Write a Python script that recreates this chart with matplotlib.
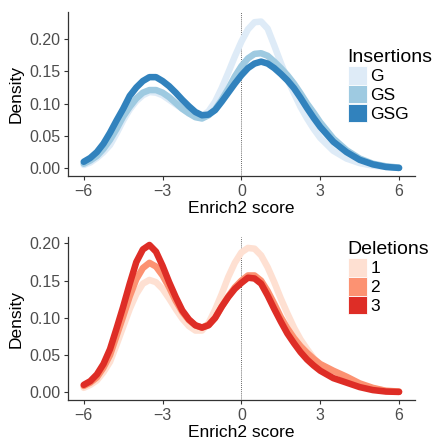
import numpy as np
from matplotlib import pyplot as plt
from matplotlib.patches import Patch

plt.rcParams['font.family'] = ['Liberation Sans', 'DejaVu Sans']

#### data ####

score = [-6, -5.75, -5.5, -5.25,
         -5, -4.75, -4.5, -4.25, -4, -3.75, -3.5, -3.25, -3, -2.75, -2.5, -2.25,
         -2, -1.75, -1.5, -1.25, -1, -0.75, -0.5, -0.25, 0, 0.25, 0.5, 0.75,
         1, 1.25, 1.5, 1.75, 2, 2.25, 2.5, 2.75, 3,
         3.5, 4, 4.5, 5, 5.5, 6]

ins_labels = ['G', 'GS', 'GSG']
ins_g   = [0.005, 0.009, 0.016, 0.025,
           0.036, 0.054, 0.074, 0.091, 0.104, 0.113, 0.118, 0.117, 0.113, 0.106, 0.099, 0.092,
           0.085, 0.081, 0.081, 0.088, 0.103, 0.124, 0.148, 0.173, 0.196, 0.215, 0.226, 0.227,
           0.216, 0.190, 0.163, 0.138, 0.116, 0.095, 0.077, 0.061, 0.047,
           0.027, 0.015, 0.008, 0.004, 0.002, 0.0005]
ins_gs  = [0.007, 0.012, 0.019, 0.030,
           0.044, 0.061, 0.080, 0.095, 0.108, 0.117, 0.121, 0.121, 0.117, 0.110, 0.101, 0.092,
           0.085, 0.079, 0.077, 0.082, 0.091, 0.106, 0.123, 0.142, 0.158, 0.170, 0.177, 0.178,
           0.174, 0.165, 0.155, 0.144, 0.131, 0.116, 0.100, 0.086, 0.071,
           0.046, 0.028, 0.015, 0.007, 0.003, 0.001]
ins_gsg = [0.010, 0.016, 0.025, 0.038,
           0.055, 0.074, 0.092, 0.112, 0.125, 0.135, 0.141, 0.141, 0.135, 0.127, 0.117, 0.106,
           0.096, 0.087, 0.082, 0.083, 0.090, 0.103, 0.117, 0.131, 0.144, 0.155, 0.162, 0.165,
           0.162, 0.155, 0.146, 0.136, 0.124, 0.109, 0.093, 0.078, 0.064,
           0.041, 0.025, 0.013, 0.006, 0.002, 0.0005]

del_labels = ['1', '2', '3']
del_1 = [0.006, 0.010, 0.016, 0.027,
         0.041, 0.064, 0.088, 0.112, 0.132, 0.146, 0.151, 0.148, 0.139, 0.126, 0.112, 0.099,
         0.089, 0.083, 0.083, 0.093, 0.111, 0.132, 0.155, 0.174, 0.188, 0.194, 0.193, 0.184,
         0.168, 0.148, 0.126, 0.106, 0.087, 0.071, 0.058, 0.046, 0.036,
         0.026, 0.019, 0.010, 0.005, 0.002, 0.001]
del_2 = [0.0085, 0.013, 0.020, 0.033,
         0.050, 0.076, 0.102, 0.129, 0.152, 0.167, 0.174, 0.169, 0.157, 0.141, 0.123, 0.108,
         0.097, 0.090, 0.087, 0.091, 0.100, 0.115, 0.129, 0.141, 0.150, 0.157, 0.157, 0.150,
         0.136, 0.119, 0.101, 0.086, 0.073, 0.062, 0.053, 0.045, 0.038,
         0.029, 0.021, 0.012, 0.006, 0.002, 0.001]
del_3 = [0.010, 0.015, 0.024, 0.038,
         0.058, 0.086, 0.115, 0.146, 0.175, 0.192, 0.198, 0.189, 0.170, 0.148, 0.128, 0.110,
         0.098, 0.090, 0.087, 0.090, 0.100, 0.115, 0.128, 0.139, 0.147, 0.154, 0.153, 0.146,
         0.130, 0.112, 0.095, 0.079, 0.066, 0.054, 0.044, 0.036, 0.029,
         0.019, 0.013, 0.007, 0.003, 0.001, 0.0005]

blues = ['#deebf7', '#9ecae1', '#3182bd']
reds = ['#fee0d2', '#fc9272', '#de2d26']

fig = plt.figure(figsize=(4.33, 4.40), dpi=100)
ax1 = fig.add_axes([0.157, 0.600, 0.801, 0.373])
ax2 = fig.add_axes([0.157, 0.091, 0.801, 0.370])


def panel(ax, series, labels, colors, title, ylim, leg_xy):
    ax.axvline(0, color='#333333', lw=0.6, ls=(0, (1, 1.5)), zorder=1)
    for ys, c in zip(series, colors):
        ax.plot(score, ys, color=c, lw=4.7, solid_capstyle='round',
                solid_joinstyle='round', zorder=2)
    ax.set_xlim(-6.6, 6.6)
    ax.set_ylim(*ylim)
    ax.set_xticks([-6, -3, 0, 3, 6])
    ax.set_yticks([0, 0.05, 0.10, 0.15, 0.20])
    ax.set_yticklabels(['%.2f' % v for v in [0, 0.05, 0.10, 0.15, 0.20]])
    for s in ['top', 'right']:
        ax.spines[s].set_visible(False)
    for s in ['left', 'bottom']:
        ax.spines[s].set_color('#333333')
        ax.spines[s].set_linewidth(0.9)
    ax.tick_params(labelsize=11.5, labelcolor='#4d4d4d', color='#333333',
                   length=3, width=0.8, pad=2.5)
    ax.set_xlabel('Enrich2 score', fontsize=12.5, labelpad=1.5)
    ax.set_ylabel('Density', fontsize=12.5, labelpad=4)
    handles = [Patch(facecolor=c, edgecolor='white', lw=0.6) for c in colors]
    leg = ax.legend(handles, labels, title=title, loc='upper left',
                    bbox_to_anchor=leg_xy, bbox_transform=fig.transFigure,
                    frameon=False, fontsize=12.5, title_fontsize=14,
                    handlelength=1.12, handleheight=1.25, labelspacing=0.02,
                    handletextpad=0.2, borderpad=0, borderaxespad=0)
    leg._legend_box.align = 'left'


panel(ax1, [ins_g, ins_gs, ins_gsg], ins_labels, blues, 'Insertions',
      (-0.012, 0.242), (0.803, 0.889))
panel(ax2, [del_1, del_2, del_3], del_labels, reds, 'Deletions',
      (-0.0103, 0.2085), (0.803, 0.452))

fig.savefig('out.png', dpi=100)
